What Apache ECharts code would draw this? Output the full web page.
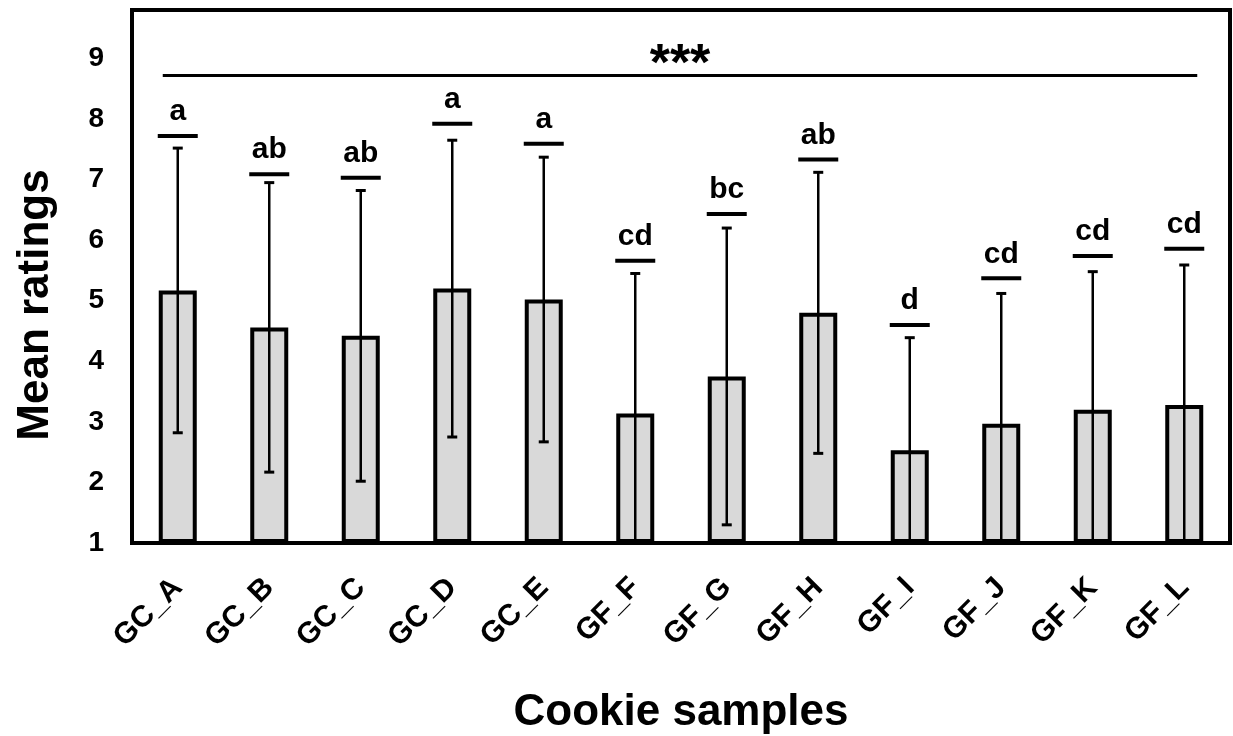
<!DOCTYPE html>
<html>
<head>
<meta charset="utf-8">
<script src="https://cdn.jsdelivr.net/npm/echarts@6/dist/echarts.min.js"></script>
<style>
  html, body { margin: 0; padding: 0; background: #fff; }
  #chart { width: 1233px; height: 736px; }
</style>
</head>
<body>
<div id="chart"></div>
<script>
// data
const samples = ['GC_A', 'GC_B', 'GC_C', 'GC_D', 'GC_E', 'GF_F', 'GF_G', 'GF_H', 'GF_I', 'GF_J', 'GF_K', 'GF_L'];
const meanRatings = [5.17, 4.56, 4.42, 5.20, 5.02, 3.14, 3.75, 4.80, 2.53, 2.97, 3.20, 3.28];
const sdRatings = [2.35, 2.39, 2.40, 2.45, 2.35, 2.31, 2.45, 2.32, 1.86, 2.15, 2.28, 2.31];
const groupLetters = ['a', 'ab', 'ab', 'a', 'a', 'cd', 'bc', 'ab', 'd', 'cd', 'cd', 'cd'];
const letterLevels = [7.72, 7.09, 7.03, 7.92, 7.59, 5.66, 6.43, 7.33, 4.60, 5.37, 5.74, 5.86];
const overallLevel = 8.72;
const overallMark = '***';

const Y_MIN = 1;
const Y_MAX = 9.8;
const FONT = '"Liberation Sans", Arial, sans-serif';

const chart = echarts.init(document.getElementById('chart'));

const option = {
  animation: false,
  backgroundColor: '#fff',
  textStyle: { fontFamily: FONT },
  grid: {
    left: 132,
    right: 3,
    top: 10,
    bottom: 193,
    outerBoundsMode: 'none',
    containLabel: false,
    show: true,
    borderColor: '#000',
    borderWidth: 4,
    backgroundColor: 'transparent',
  },
  xAxis: {
    type: 'category',
    data: samples,
    axisLine: { show: false },
    axisTick: { show: false },
    axisLabel: {
      interval: 0,
      rotate: 45,
      margin: 40,
      color: '#000',
      fontSize: 30,
      fontWeight: 'bold',
      fontFamily: FONT,
    },
    name: 'Cookie samples',
    nameLocation: 'middle',
    nameGap: 148,
    nameTextStyle: { color: '#000', fontSize: 44, fontWeight: 'bold', fontFamily: FONT },
  },
  yAxis: {
    type: 'value',
    min: Y_MIN,
    max: Y_MAX,
    interval: 1,
    startValue: Y_MIN,
    axisLine: { show: false },
    axisTick: { show: false },
    splitLine: { show: false },
    axisLabel: {
      margin: 28,
      color: '#000',
      fontSize: 28,
      fontWeight: 'bold',
      fontFamily: FONT,
      showMaxLabel: false,
      formatter: (v) => (Number.isInteger(v) ? String(v) : ''),
    },
  },
  graphic: [
    {
      type: 'text',
      x: 36,
      y: 305,
      rotation: Math.PI / 2,
      style: {
        text: 'Mean ratings',
        fill: '#000',
        font: `bold 44px ${FONT}`,
        align: 'center',
        verticalAlign: 'middle',
      },
    },
  ],
  series: [
    {
      name: 'Mean',
      type: 'bar',
      data: meanRatings,
      barWidth: 38,
      itemStyle: { color: '#d9d9d9', borderColor: '#000', borderWidth: 4 },
      z: 2,
    },
    {
      // error bars (mean ± SD), clipped at the axis minimum
      name: 'SD',
      type: 'custom',
      data: samples.map((_, i) => [i, meanRatings[i], sdRatings[i]]),
      z: 3,
      renderItem(params, api) {
        const i = api.value(0);
        const m = api.value(1);
        const sd = api.value(2);
        const top = api.coord([i, m + sd]);
        const lowVal = Math.max(m - sd, Y_MIN);
        const low = api.coord([i, lowVal]);
        const children = [
          { type: 'line', shape: { x1: top[0], y1: top[1], x2: low[0], y2: low[1] }, style: { stroke: '#000', lineWidth: 2.5 } },
          { type: 'line', shape: { x1: top[0] - 5, y1: top[1], x2: top[0] + 5, y2: top[1] }, style: { stroke: '#000', lineWidth: 3 } },
        ];
        if (m - sd > Y_MIN) {
          children.push({ type: 'line', shape: { x1: low[0] - 5, y1: low[1], x2: low[0] + 5, y2: low[1] }, style: { stroke: '#000', lineWidth: 3 } });
        }
        return { type: 'group', children };
      },
    },
    {
      // significance letters
      name: 'Letters',
      type: 'custom',
      data: samples.map((_, i) => [i, letterLevels[i]]),
      z: 3,
      renderItem(params, api) {
        const p = api.coord([api.value(0), api.value(1)]);
        return {
          type: 'group',
          children: [
            { type: 'line', shape: { x1: p[0] - 20, y1: p[1], x2: p[0] + 20, y2: p[1] }, style: { stroke: '#000', lineWidth: 4 } },
            {
              type: 'text',
              x: p[0],
              y: p[1] - 9,
              style: {
                text: groupLetters[params.dataIndex],
                fill: '#000',
                font: `bold 30px ${FONT}`,
                align: 'center',
                verticalAlign: 'bottom',
              },
            },
          ],
        };
      },
    },
    {
      // overall test line
      name: 'Overall',
      type: 'custom',
      data: [[0, samples.length - 1, overallLevel]],
      z: 3,
      renderItem(params, api) {
        const a = api.coord([api.value(0), api.value(2)]);
        const b = api.coord([api.value(1), api.value(2)]);
        return {
          type: 'group',
          children: [
            { type: 'line', shape: { x1: a[0] - 15, y1: a[1], x2: b[0] + 13, y2: b[1] }, style: { stroke: '#000', lineWidth: 3 } },
            {
              type: 'text',
              x: (a[0] - 15 + b[0] + 13) / 2,
              y: a[1] + 16,
              style: {
                text: overallMark,
                fill: '#000',
                font: `bold 52px ${FONT}`,
                align: 'center',
                verticalAlign: 'bottom',
              },
            },
          ],
        };
      },
    },
  ],
};

chart.setOption(option);
</script>
</body>
</html>
